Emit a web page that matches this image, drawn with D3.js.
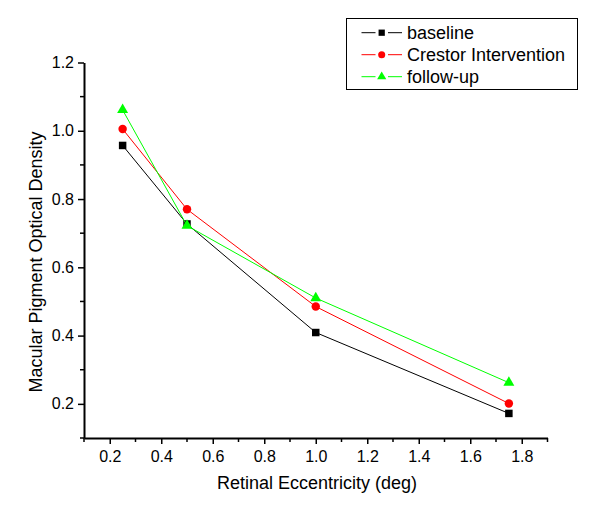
<!DOCTYPE html>
<html>
<head>
<meta charset="utf-8">
<script src="https://cdn.jsdelivr.net/npm/d3@7"></script>
<style>
  body { margin: 0; background: #fff; }
  svg text { font-family: Arial, "Liberation Sans", sans-serif; fill: #000; }
</style>
</head>
<body>
<div id="plot"></div>
<script>
// data
const eccentricity = [0.25, 0.5, 1.0, 1.75];
const baseline = [0.957, 0.727, 0.409, 0.172];
const crestor = [1.005, 0.770, 0.485, 0.201];
const followup = [1.061, 0.722, 0.510, 0.262];
const seriesNames = ["baseline", "Crestor Intervention", "follow-up"];
const xTicks = [0.2, 0.4, 0.6, 0.8, 1.0, 1.2, 1.4, 1.6, 1.8];
const yTicks = [0.2, 0.4, 0.6, 0.8, 1.0, 1.2];

const width = 600, height = 513;

const svg = d3.select("#plot")
    .append("svg")
    .attr("width", width)
    .attr("height", height);

const x = d3.scaleLinear().domain([0.1, 1.9]).range([84, 547.5]);
const y = d3.scaleLinear().domain([0.1, 1.2]).range([438, 62.5]);

const series = [
    {name: seriesNames[0], values: baseline, color: "#000000", shape: d3.symbolSquare, size: 56},
    {name: seriesNames[1], values: crestor, color: "#ff0000", shape: d3.symbolCircle, size: 56},
    {name: seriesNames[2], values: followup, color: "#00ff00", shape: d3.symbolTriangle, size: 52}
];

// minor ticks
const xMinor = d3.range(0.1, 1.95, 0.2);
const yMinor = d3.range(0.1, 1.15, 0.2);

svg.selectAll("line.xminor").data(xMinor).enter().append("line")
    .attr("x1", d => x(d)).attr("x2", d => x(d))
    .attr("y1", y(0.1)).attr("y2", y(0.1) + 4)
    .attr("stroke", "#000").attr("stroke-width", 1.5);

svg.selectAll("line.yminor").data(yMinor).enter().append("line")
    .attr("x1", x(0.1) - 4).attr("x2", x(0.1))
    .attr("y1", d => y(d)).attr("y2", d => y(d))
    .attr("stroke", "#000").attr("stroke-width", 1.5);

// x axis
const xAxis = svg.append("g")
    .attr("transform", `translate(0,${y(0.1)})`)
    .call(d3.axisBottom(x).tickValues(xTicks).tickFormat(d3.format(".1f")).tickSize(6).tickSizeOuter(0));

// y axis
const yAxis = svg.append("g")
    .attr("transform", `translate(${x(0.1)},0)`)
    .call(d3.axisLeft(y).tickValues(yTicks).tickFormat(d3.format(".1f")).tickSize(6).tickSizeOuter(0));

[xAxis, yAxis].forEach(g => {
    g.select(".domain").attr("stroke-width", 2);
    g.selectAll(".tick line").attr("stroke-width", 1.5);
    g.selectAll(".tick text").attr("font-size", 16);
});
xAxis.selectAll(".tick text").attr("dy", "1.0em").attr("y", 8);
yAxis.selectAll(".tick text").attr("x", -10);

// axis titles
svg.append("text")
    .attr("x", 317)
    .attr("y", 489)
    .attr("text-anchor", "middle")
    .attr("font-size", 18)
    .text("Retinal Eccentricity (deg)");

svg.append("text")
    .attr("transform", "translate(41.5,262) rotate(-90)")
    .attr("text-anchor", "middle")
    .attr("font-size", 18)
    .text("Macular Pigment Optical Density");

// lines and markers
const line = d3.line()
    .x((d, i) => x(eccentricity[i]))
    .y(d => y(d));

series.forEach(s => {
    svg.append("path")
        .datum(s.values)
        .attr("d", line)
        .attr("fill", "none")
        .attr("stroke", s.color)
        .attr("stroke-width", 1);

    svg.selectAll(null).data(s.values).enter().append("path")
        .attr("d", d3.symbol().type(s.shape).size(s.size))
        .attr("transform", (d, i) => `translate(${x(eccentricity[i])},${y(d)})`)
        .attr("fill", s.color);
});

// legend
const legend = svg.append("g");
legend.append("rect")
    .attr("x", 346.5).attr("y", 18.5)
    .attr("width", 231).attr("height", 71)
    .attr("fill", "#fff")
    .attr("stroke", "#000")
    .attr("stroke-width", 1);

const rowY = d3.scaleLinear().domain([0, 2]).range([32.7, 76.7]);

series.forEach((s, i) => {
    [[361.5, 375.5], [388, 402]].forEach(seg => {
        legend.append("line")
            .attr("x1", seg[0]).attr("x2", seg[1])
            .attr("y1", rowY(i)).attr("y2", rowY(i))
            .attr("stroke", s.color).attr("stroke-width", 1);
    });
    legend.append("path")
        .attr("d", d3.symbol().type(s.shape).size(s.size * 0.7))
        .attr("transform", `translate(381.7,${rowY(i)})`)
        .attr("fill", s.color);
    legend.append("text")
        .attr("x", 407)
        .attr("y", rowY(i) + 6.5)
        .attr("font-size", 18)
        .text(s.name);
});
</script>
</body>
</html>
